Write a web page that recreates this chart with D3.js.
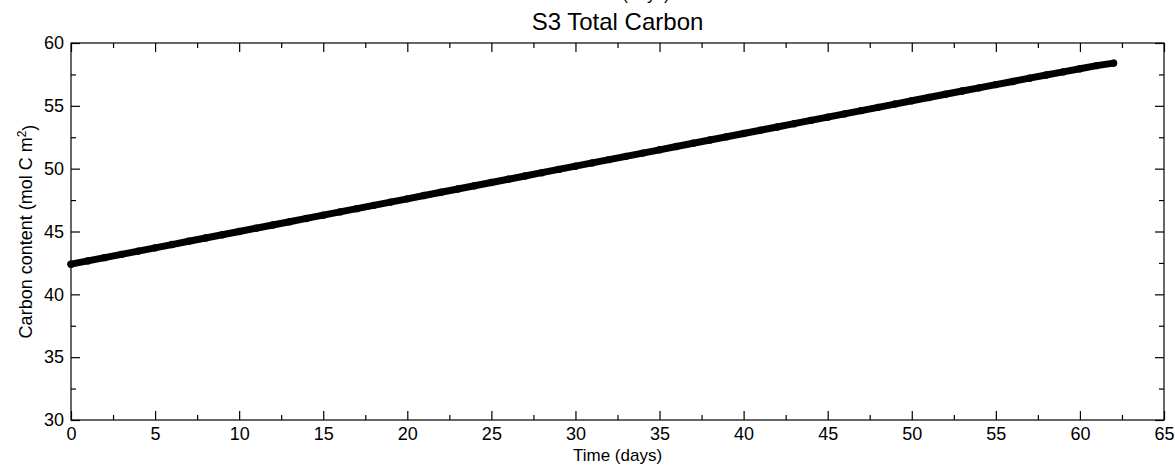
<!DOCTYPE html>
<html>
<head>
<meta charset="utf-8">
<script src="https://cdn.jsdelivr.net/npm/d3@7"></script>
<style>
  body { margin: 0; background: #fff; }
  svg { display: block; font-family: "Liberation Sans", Arial, sans-serif; }
  .axis path { stroke: #000; stroke-width: 1.2; }
  .axis line { stroke: #000; stroke-width: 1.2; }
  .axis text { fill: #000; font-size: 18px; }
</style>
</head>
<body>
<div id="chart"></div>
<script>
// S3 Total Carbon - carbon content over time

const days = d3.range(0, 63)
const carbon = [
  42.40, 42.66, 42.92, 43.18, 43.44, 43.70, 43.96, 44.22, 44.48, 44.74,
  45.00, 45.26, 45.52, 45.78, 46.04, 46.30, 46.56, 46.82, 47.08, 47.34,
  47.60, 47.86, 48.12, 48.38, 48.64, 48.90, 49.16, 49.42, 49.68, 49.94,
  50.20, 50.46, 50.72, 50.98, 51.24, 51.50, 51.76, 52.02, 52.28, 52.54,
  52.80, 53.06, 53.32, 53.58, 53.84, 54.10, 54.36, 54.62, 54.88, 55.14,
  55.40, 55.66, 55.92, 56.18, 56.43, 56.69, 56.94, 57.20, 57.45, 57.70,
  57.95, 58.20, 58.40
]
const xMajor = [0, 5, 10, 15, 20, 25, 30, 35, 40, 45, 50, 55, 60, 65]
const xMinor = [2.5, 7.5, 12.5, 17.5, 22.5, 27.5, 32.5, 37.5, 42.5, 47.5, 52.5, 57.5, 62.5]
const yMajor = [30, 35, 40, 45, 50, 55, 60]
const yMinor = [32.5, 37.5, 42.5, 47.5, 52.5, 57.5]

const W = 1175, H = 469
const margin = { top: 43, right: 11, bottom: 49, left: 71 }
const width = W - margin.left - margin.right
const height = H - margin.top - margin.bottom

const svg = d3.select("#chart").append("svg").attr("width", W).attr("height", H)

// x label of the panel above, cut by the page edge
svg.append("text")
  .attr("x", 625).attr("y", -0.5)
  .attr("text-anchor", "middle")
  .style("font-size", "17px")
  .text("Time (days)")

const g = svg.append("g").attr("transform", `translate(${margin.left},${margin.top})`)

const x = d3.scaleLinear().domain([0, 65]).range([0, width])
const y = d3.scaleLinear().domain([30, 60]).range([height, 0])

// box
g.append("rect")
  .attr("width", width).attr("height", height)
  .attr("fill", "none").attr("stroke", "#000").attr("stroke-width", 1.2)

// bottom axis, ticks pointing inward
g.append("g").attr("class", "axis").attr("transform", `translate(0,${height})`)
  .call(d3.axisBottom(x).tickValues(xMajor).tickSize(-9).tickPadding(3).tickFormat(d3.format("d")))
  .call((a) => a.selectAll("text").attr("dy", "0.95em"))
g.append("g").attr("class", "axis").attr("transform", `translate(0,${height})`)
  .call(d3.axisBottom(x).tickValues(xMinor).tickSize(-5).tickFormat(""))

// top axis
g.append("g").attr("class", "axis")
  .call(d3.axisTop(x).tickValues(xMajor).tickSize(-9).tickFormat(""))
g.append("g").attr("class", "axis")
  .call(d3.axisTop(x).tickValues(xMinor).tickSize(-5).tickFormat(""))

// left axis
g.append("g").attr("class", "axis")
  .call(d3.axisLeft(y).tickValues(yMajor).tickSize(-9).tickPadding(7).tickFormat(d3.format("d")))
g.append("g").attr("class", "axis")
  .call(d3.axisLeft(y).tickValues(yMinor).tickSize(-5).tickFormat(""))

// right axis
g.append("g").attr("class", "axis").attr("transform", `translate(${width},0)`)
  .call(d3.axisRight(y).tickValues(yMajor).tickSize(-9).tickFormat(""))
g.append("g").attr("class", "axis").attr("transform", `translate(${width},0)`)
  .call(d3.axisRight(y).tickValues(yMinor).tickSize(-5).tickFormat(""))

g.selectAll(".axis path.domain").remove()

// series
const data = days.map((d, i) => ({ day: d, value: carbon[i] }))

const line = d3.line().x((d) => x(d.day)).y((d) => y(d.value))

g.append("path")
  .datum(data)
  .attr("d", line)
  .attr("fill", "none")
  .attr("stroke", "#000")
  .attr("stroke-width", 7)
  .attr("stroke-linecap", "round")

g.selectAll(".dot")
  .data(data)
  .enter()
  .append("circle")
  .attr("class", "dot")
  .attr("cx", (d) => x(d.day))
  .attr("cy", (d) => y(d.value))
  .attr("r", 3.7)
  .attr("fill", "#000")

// title
svg.append("text")
  .attr("x", margin.left + width / 2).attr("y", 30)
  .attr("text-anchor", "middle")
  .style("font-size", "24px")
  .text("S3 Total Carbon")

// x label
g.append("text")
  .attr("x", width / 2).attr("y", height + 41)
  .attr("text-anchor", "middle")
  .style("font-size", "17px")
  .text("Time (days)")

// y label
const yl = g.append("text")
  .attr("transform", `translate(${-39},${height / 2}) rotate(-90)`)
  .attr("text-anchor", "middle")
  .style("font-size", "18px")
yl.append("tspan").text("Carbon content (mol C m")
yl.append("tspan").attr("dy", "-0.5em").style("font-size", "12px").text("2")
yl.append("tspan").attr("dy", "0.5em").text(")")
</script>
</body>
</html>
